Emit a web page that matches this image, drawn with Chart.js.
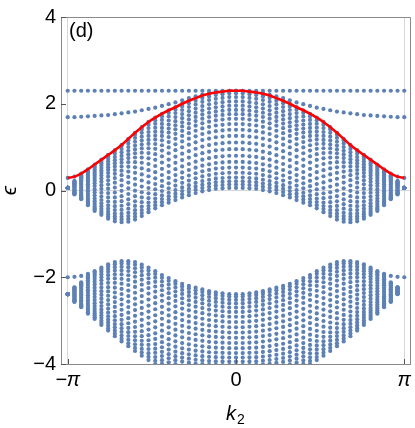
<!DOCTYPE html>
<html>
<head>
<meta charset="utf-8">
<script src="https://cdn.jsdelivr.net/npm/chart.js@4.4.1/dist/chart.umd.min.js"></script>
<style>
  html, body { margin: 0; padding: 0; background: #ffffff; }
  #wrap { width: 415px; height: 428px; }
</style>
</head>
<body>
<div id="wrap"><canvas id="c" width="415" height="428"></canvas></div>
<script>
// k2 values in units of pi
const kValues = [-1.00,-0.96,-0.92,-0.88,-0.84,-0.80,-0.76,-0.72,-0.68,-0.64,-0.60,-0.56,-0.52,-0.48,-0.44,-0.40,-0.36,-0.32,-0.28,-0.24,-0.20,-0.16,-0.12,-0.08,-0.04,0.00,0.04,0.08,0.12,0.16,0.20,0.24,0.28,0.32,0.36,0.40,0.44,0.48,0.52,0.56,0.60,0.64,0.68,0.72,0.76,0.80,0.84,0.88,0.92,0.96,1.00];
const xTickValues = [-1, 0, 1];
const xTickLabels = ['\u2212\u03c0', '0', '\u03c0'];
const yTickValues = [-4, -2, 0, 2, 4];
const yTickLabels = ['\u22124', '\u22122', '0', '2', '4'];
const panelLabel = '(d)';

// red edge-state curve
const redCurve = [0.29,0.32,0.39,0.49,0.60,0.71,0.82,0.93,1.05,1.19,1.33,1.46,1.58,1.68,1.77,1.85,1.92,2.00,2.07,2.13,2.19,2.23,2.26,2.28,2.30,2.30,2.30,2.28,2.26,2.23,2.19,2.13,2.07,2.00,1.92,1.85,1.77,1.68,1.58,1.46,1.33,1.19,1.05,0.93,0.82,0.71,0.60,0.49,0.39,0.32,0.29];
// flat state
const flatBand = [2.30,2.30,2.30,2.30,2.30,2.30,2.30,2.30,2.30,2.30,2.30,2.30,2.30,2.30,2.30,2.30,2.30,2.30,2.30,2.30,2.30,2.30,2.30,2.30,2.30,2.30,2.30,2.30,2.30,2.30,2.30,2.30,2.30,2.30,2.30,2.30,2.30,2.30,2.30,2.30,2.30,2.30,2.30,2.30,2.30,2.30,2.30,2.30,2.30,2.30,2.30];
// upper edge state
const upperEdge = [1.69,1.69,1.70,1.71,1.72,1.73,1.74,1.76,1.78,1.80,1.82,1.85,1.88,1.91,1.95,1.99,2.03,2.08,2.13,2.17,2.21,2.24,2.26,2.28,2.29,2.30,2.29,2.28,2.26,2.24,2.21,2.17,2.13,2.08,2.03,1.99,1.95,1.91,1.88,1.85,1.82,1.80,1.78,1.76,1.74,1.73,1.72,1.71,1.70,1.69,1.69];
// lower edge state (only near the zone edge)
const lowerEdge = [-2.00,-1.99,-1.97,null,null,null,null,null,null,null,null,null,null,null,null,null,null,null,null,null,null,null,null,null,null,null,null,null,null,null,null,null,null,null,null,null,null,null,null,null,null,null,null,null,null,null,null,null,-1.97,-1.99,-2.00];
// upper bulk band edges
const upperTop = [0.06,0.22,0.35,0.45,0.57,0.68,0.79,0.91,1.03,1.16,1.29,1.41,1.52,1.62,1.71,1.79,1.87,1.94,2.01,2.07,2.13,2.17,2.20,2.22,2.24,2.24,2.24,2.22,2.20,2.17,2.13,2.07,2.01,1.94,1.87,1.79,1.71,1.62,1.52,1.41,1.29,1.16,1.03,0.91,0.79,0.68,0.57,0.45,0.35,0.22,0.06];
const upperBottom = [0.06,-0.09,-0.20,-0.34,-0.47,-0.56,-0.65,-0.71,-0.73,-0.72,-0.67,-0.59,-0.50,-0.41,-0.34,-0.28,-0.22,-0.16,-0.11,-0.06,-0.02,0.01,0.04,0.05,0.06,0.06,0.06,0.05,0.04,0.01,-0.02,-0.06,-0.11,-0.16,-0.22,-0.28,-0.34,-0.41,-0.50,-0.59,-0.67,-0.72,-0.73,-0.71,-0.65,-0.56,-0.47,-0.34,-0.20,-0.09,0.06];
// lower bulk band edges
const lowerTop = [-2.39,-2.23,-2.12,-1.92,-1.86,-1.78,-1.70,-1.65,-1.63,-1.63,-1.65,-1.71,-1.78,-1.86,-1.95,-2.02,-2.09,-2.15,-2.20,-2.24,-2.28,-2.32,-2.35,-2.37,-2.39,-2.39,-2.39,-2.37,-2.35,-2.32,-2.28,-2.24,-2.20,-2.15,-2.09,-2.02,-1.95,-1.86,-1.78,-1.71,-1.65,-1.63,-1.63,-1.65,-1.70,-1.78,-1.86,-1.92,-2.12,-2.23,-2.39];
const lowerBottom = [-2.39,-2.57,-2.69,-2.84,-2.96,-3.10,-3.23,-3.36,-3.48,-3.59,-3.70,-3.81,-3.91,-4.00,-4.07,-4.12,-4.16,-4.19,-4.21,-4.23,-4.24,-4.25,-4.25,-4.25,-4.25,-4.25,-4.25,-4.25,-4.25,-4.24,-4.23,-4.21,-4.19,-4.16,-4.12,-4.07,-4.00,-3.91,-3.81,-3.70,-3.59,-3.48,-3.36,-3.23,-3.10,-2.96,-2.84,-2.69,-2.57,-2.39];
// relative positions of the levels inside each band column (top -> bottom), read from the k2 = 0 column
const upperProfile = [0,0.04,0.085,0.13,0.175,0.22,0.27,0.325,0.385,0.45,0.52,0.59,0.66,0.725,0.785,0.84,0.89,0.93,0.965,1];
const lowerProfile = [0,0.03,0.07,0.115,0.165,0.22,0.28,0.345,0.41,0.475,0.54,0.605,0.67,0.73,0.785,0.835,0.88,0.925,0.965,1];

// build point table
const bluePoints = [];
kValues.forEach((k, j) => {
  upperProfile.forEach(f => bluePoints.push({x: k, y: upperTop[j] - f * (upperTop[j] - upperBottom[j])}));
  lowerProfile.forEach(f => bluePoints.push({x: k, y: lowerTop[j] - f * (lowerTop[j] - lowerBottom[j])}));
  bluePoints.push({x: k, y: flatBand[j]});
  bluePoints.push({x: k, y: upperEdge[j]});
  bluePoints.push({x: k, y: redCurve[j]});
  if (lowerEdge[j] !== null) bluePoints.push({x: k, y: lowerEdge[j]});
});
const redLine = kValues.map((k, j) => ({x: k, y: redCurve[j]}));

const FONT = "'Liberation Sans', Arial, sans-serif";
const AXIS = '#8a8a8a';

const decor = {
  id: 'decor',
  afterDraw(chart) {
    const ctx = chart.ctx, a = chart.chartArea;
    const xs = chart.scales.x, ys = chart.scales.y;
    ctx.save();
    // frame top/right
    ctx.strokeStyle = AXIS; ctx.lineWidth = 1;
    ctx.beginPath();
    ctx.moveTo(a.left, a.top + 0.5); ctx.lineTo(a.right - 0.5, a.top + 0.5); ctx.lineTo(a.right - 0.5, a.bottom);
    ctx.stroke();
    // inward ticks
    ctx.strokeStyle = '#555';
    ctx.beginPath();
    yTickValues.forEach(v => {
      const y = Math.round(ys.getPixelForValue(v)) + 0.5;
      ctx.moveTo(a.left, y); ctx.lineTo(a.left + 5, y);
    });
    xTickValues.forEach(v => {
      const x = Math.round(xs.getPixelForValue(v)) + 0.5;
      ctx.moveTo(x, a.bottom); ctx.lineTo(x, a.bottom - 5);
    });
    ctx.stroke();
    // panel label
    ctx.fillStyle = '#000';
    ctx.font = '20px ' + FONT;
    ctx.textAlign = 'left'; ctx.textBaseline = 'alphabetic';
    ctx.fillText(panelLabel, 69, 37);
    // x title k2
    const cx = xs.getPixelForValue(0);
    ctx.font = 'italic 20px ' + FONT;
    ctx.fillText('k', cx - 10, 420);
    ctx.font = '14px ' + FONT;
    ctx.fillText('2', cx + 1, 424);
    // y title epsilon (rotated)
    ctx.translate(16, ys.getPixelForValue(0));
    ctx.rotate(-Math.PI / 2);
    ctx.font = 'italic 21px ' + FONT;
    ctx.textAlign = 'center';
    ctx.fillText('\u03f5', 0, 0);
    ctx.restore();
  }
};

new Chart(document.getElementById('c'), {
  data: {
    datasets: [
      { type: 'line', data: redLine, borderColor: '#ff0000', borderWidth: 2.6, pointRadius: 0, tension: 0.4, order: 0, fill: false },
      { type: 'scatter', data: bluePoints, backgroundColor: '#5e81b5', borderWidth: 0, pointRadius: 2.1, pointHoverRadius: 2.1, order: 1 }
    ]
  },
  options: {
    responsive: false,
    animation: false,
    devicePixelRatio: 1,
    events: [],
    layout: { padding: { top: 9, right: 1, left: 0, bottom: 0 } },
    plugins: { legend: { display: false }, tooltip: { enabled: false } },
    scales: {
      x: {
        type: 'linear', min: -1.04, max: 1.04,
        afterBuildTicks: s => { s.ticks = xTickValues.map(v => ({ value: v })); },
        afterFit: s => { s.height = 64; },
        ticks: {
          callback: v => xTickLabels[xTickValues.indexOf(v)],
          font: ctx => ({ family: FONT, size: 20, style: (ctx.tick && ctx.tick.value === 0) ? 'normal' : 'italic' }),
          color: '#000', padding: 4, maxRotation: 0, autoSkip: false
        },
        grid: {
          color: ctx => (ctx.tick && Math.abs(ctx.tick.value) === 1) ? '#d6d6d6' : 'rgba(0,0,0,0)',
          drawTicks: false, lineWidth: 1
        },
        border: { display: true, color: AXIS, width: 1 }
      },
      y: {
        type: 'linear', min: -4, max: 4,
        afterBuildTicks: s => { s.ticks = yTickValues.map(v => ({ value: v })); },
        afterFit: s => { s.width = 61; },
        ticks: {
          callback: v => yTickLabels[yTickValues.indexOf(v)],
          font: { family: FONT, size: 20 }, color: '#000', padding: 5, autoSkip: false
        },
        grid: {
          color: ctx => (ctx.tick && ctx.tick.value === 0) ? '#d6d6d6' : 'rgba(0,0,0,0)',
          drawTicks: false, lineWidth: 1
        },
        border: { display: true, color: AXIS, width: 1 }
      }
    }
  },
  plugins: [decor]
});
</script>
</body>
</html>
